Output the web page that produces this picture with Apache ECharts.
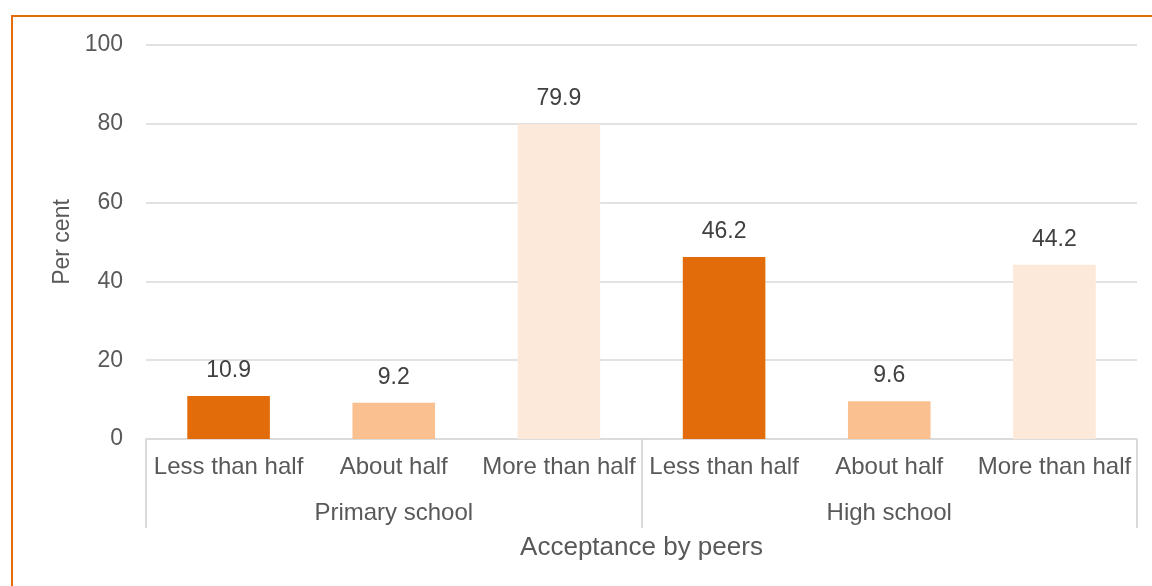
<!DOCTYPE html>
<html>
<head>
<meta charset="utf-8">
<script src="https://cdn.jsdelivr.net/npm/echarts@6/dist/echarts.min.js"></script>
<style>html,body{margin:0;padding:0;background:#fff}#c{width:1152px;height:586px}</style>
</head>
<body>
<div id="c"></div>
<script>
var subCategories = ['Less than half', 'About half', 'More than half', 'Less than half', 'About half', 'More than half'];
var groups = ['Primary school', 'High school'];
var values = [10.9, 9.2, 79.9, 46.2, 9.6, 44.2];
var yTicks = [0, 20, 40, 60, 80, 100];
var barColors = ['#E36C0A', '#FAC090', '#FDE9D9', '#E36C0A', '#FAC090', '#FDE9D9'];

var FONT = 'Liberation Sans, Arial, sans-serif';
var chart = echarts.init(document.getElementById('c'), null, {renderer: 'canvas'});
chart.setOption({
  animation: false,
  backgroundColor: '#fff',
  graphic: [{
    type: 'rect', shape: {x: 12, y: 16, width: 1300, height: 800},
    style: {fill: 'none', stroke: '#E46C0A', lineWidth: 2}, silent: true
  }],
  grid: {left: 146, right: 15, top: 45, bottom: 147, containLabel: false},
  xAxis: [{
    type: 'category', data: subCategories, position: 'bottom',
    axisLine: {show: true, lineStyle: {color: '#D9D9D9', width: 1.5}},
    axisTick: {show: false},
    axisLabel: {interval: 0, color: '#595959', fontFamily: FONT, fontSize: 24, margin: 16}
  }, {
    type: 'category', data: groups, position: 'bottom',
    name: 'Acceptance by peers', nameLocation: 'middle', nameGap: 96,
    nameTextStyle: {color: '#595959', fontFamily: FONT, fontSize: 26},
    axisLine: {show: false},
    axisTick: {show: true, length: 89, interval: 0, lineStyle: {color: '#D9D9D9', width: 2}},
    axisLabel: {interval: 0, color: '#595959', fontFamily: FONT, fontSize: 24, margin: 62}
  }],
  yAxis: {
    type: 'value', min: 0, max: 100, interval: 20,
    name: 'Per cent', nameLocation: 'middle', nameGap: 72,
    nameTextStyle: {color: '#595959', fontFamily: FONT, fontSize: 23},
    axisLine: {show: false}, axisTick: {show: false},
    axisLabel: {color: '#595959', fontFamily: FONT, fontSize: 23, margin: 23,
      formatter: function (v) { return yTicks.indexOf(v) >= 0 ? String(v) : ''; }},
    splitLine: {lineStyle: {color: '#D9D9D9', width: 1.5}}
  },
  series: [{
    type: 'bar', xAxisIndex: 0, barWidth: '50%',
    data: values.map(function (v, i) { return {value: v, itemStyle: {color: barColors[i]}}; }),
    label: {show: true, position: 'top', distance: 14, color: '#404040', fontFamily: FONT, fontSize: 23,
      formatter: function (p) { return p.value.toFixed(1); }}
  }]
});
</script>
</body>
</html>
